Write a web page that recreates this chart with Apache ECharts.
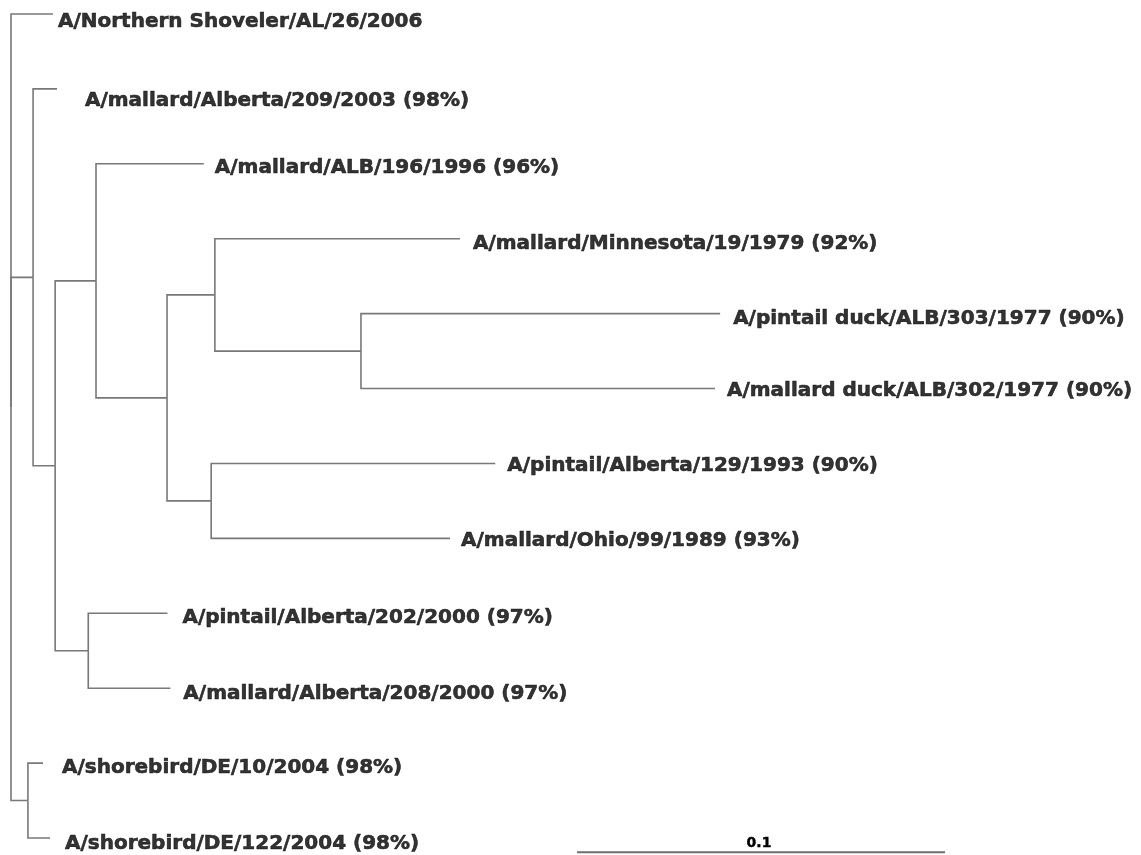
<!DOCTYPE html>
<html>
<head>
<meta charset="utf-8">
<script src="https://cdn.jsdelivr.net/npm/echarts@6/dist/echarts.min.js"></script>
<style>
  html, body { margin: 0; padding: 0; background: #ffffff; }
  #chart { width: 1141px; height: 855px; }
</style>
</head>
<body>
<div id="chart"></div>
<script>
// Leaf taxa, in drawing order from top to bottom
const taxa = [
  'A/Northern Shoveler/AL/26/2006',
  'A/mallard/Alberta/209/2003 (98%)',
  'A/mallard/ALB/196/1996 (96%)',
  'A/mallard/Minnesota/19/1979 (92%)',
  'A/pintail duck/ALB/303/1977 (90%)',
  'A/mallard duck/ALB/302/1977 (90%)',
  'A/pintail/Alberta/129/1993 (90%)',
  'A/mallard/Ohio/99/1989 (93%)',
  'A/pintail/Alberta/202/2000 (97%)',
  'A/mallard/Alberta/208/2000 (97%)',
  'A/shorebird/DE/10/2004 (98%)',
  'A/shorebird/DE/122/2004 (98%)'
];

// Branches of the tree: child, parent and branch length (substitutions/site)
const branchChild = [
  taxa[0], 'n1', taxa[1], 'n2', 'n3', taxa[2], 'n4', 'n5', taxa[3], 'n6',
  taxa[4], taxa[5], 'n7', taxa[6], taxa[7], 'n8', taxa[8], taxa[9],
  'n9', taxa[10], taxa[11]
];
const branchParent = [
  'root', 'root', 'n1', 'n1', 'n2', 'n3', 'n3', 'n4', 'n5', 'n5',
  'n6', 'n6', 'n4', 'n7', 'n7', 'n2', 'n8', 'n8',
  'root', 'n9', 'n9'
];
const branchLength = [
  0.0114, 0.0060, 0.0065, 0.0060, 0.0111, 0.0293, 0.0193, 0.0130, 0.0666, 0.0397,
  0.0976, 0.0962, 0.0120, 0.0772, 0.0649, 0.0090, 0.0215, 0.0223,
  0.0046, 0.0041, 0.0060
];

// Scale bar
const scaleBarLength = 0.1;
const scaleBarLabel = '0.1';

// ---- label styling: gap from branch tip and vertical shift, per taxon ----
const labelGap = [5, 28, 11, 13, 13, 12, 12, 11, 15, 13, 19, 15];
const labelShift = [8, 12, 4, 5, 5, 2, 2, 2, 5, 6, 5, 6];

// ---- tree layout ----
const children = {};
branchChild.forEach((c, i) => {
  const p = branchParent[i];
  (children[p] = children[p] || []).push({ id: c, len: branchLength[i] });
});
const posX = { root: 0 };
const posY = {};
function placeX(id) {
  (children[id] || []).forEach(ch => {
    posX[ch.id] = posX[id] + ch.len;
    placeX(ch.id);
  });
}
function placeY(id) {
  const kids = children[id];
  if (!kids) { posY[id] = taxa.indexOf(id); return posY[id]; }
  kids.forEach(ch => placeY(ch.id));
  posY[id] = (posY[kids[0].id] + posY[kids[kids.length - 1].id]) / 2;
  return posY[id];
}
placeX('root');
placeY('root');

const edgeData = branchChild.map((c, i) => {
  const p = branchParent[i];
  return [posX[p], posY[p], posX[c], posY[c]];
});

const tipData = taxa.map((t, i) => ({
  name: t,
  value: [posX[t], posY[t]],
  label: { distance: labelGap[i], offset: [0, labelShift[i]] }
}));

const LINE = '#787878';
const FONT = 'DejaVu Sans';

const chart = echarts.init(document.getElementById('chart'), null, { renderer: 'canvas' });
chart.setOption({
  animation: false,
  backgroundColor: '#ffffff',
  grid: { left: 11, right: 26, top: 14, bottom: 2 },
  xAxis: { type: 'value', min: 0, max: 0.3, show: false },
  yAxis: { type: 'value', min: 0, max: 11.2, inverse: true, show: false },
  series: [
    {
      type: 'custom',
      name: 'branches',
      silent: true,
      encode: { x: [0, 2], y: [1, 3] },
      data: edgeData,
      renderItem(params, api) {
        const p = api.coord([api.value(0), api.value(1)]);
        const c = api.coord([api.value(2), api.value(3)]);
        return {
          type: 'polyline',
          shape: { points: [[p[0], p[1]], [p[0], c[1]], [c[0], c[1]]] },
          style: { stroke: LINE, lineWidth: 1.6, fill: null }
        };
      }
    },
    {
      type: 'scatter',
      name: 'taxa',
      silent: true,
      symbolSize: 0,
      data: tipData,
      label: {
        show: true,
        position: 'right',
        formatter: '{b}',
        color: '#000000',
        textBorderColor: '#000000',
        textBorderWidth: 0.6,
        fontFamily: FONT,
        fontWeight: 'bold',
        fontSize: 20
      }
    },
    {
      type: 'custom',
      name: 'scale',
      silent: true,
      data: [[0.1538, 11.19, scaleBarLength]],
      renderItem(params, api) {
        const a = api.coord([api.value(0), api.value(1)]);
        const b = api.coord([api.value(0) + api.value(2), api.value(1)]);
        return {
          type: 'group',
          children: [
            {
              type: 'line',
              shape: { x1: a[0], y1: a[1], x2: b[0], y2: b[1] },
              style: { stroke: '#6f6f6f', lineWidth: 2 }
            },
            {
              type: 'text',
              x: (a[0] + b[0]) / 2 - 2,
              y: a[1] - 9,
              style: {
                text: scaleBarLabel,
                fill: '#000000',
                stroke: '#000000',
                lineWidth: 0.4,
                font: 'bold 14px "DejaVu Sans"',
                align: 'center',
                verticalAlign: 'middle'
              }
            }
          ]
        };
      }
    }
  ]
});
</script>
</body>
</html>
